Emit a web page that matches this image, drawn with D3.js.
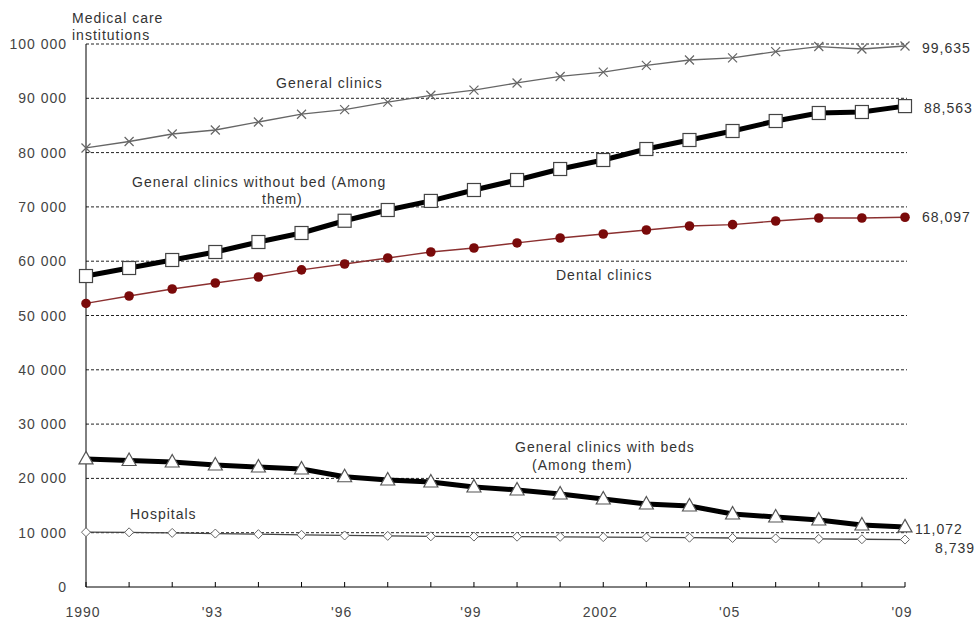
<!DOCTYPE html>
<html><head><meta charset="utf-8">
<script src="https://cdn.jsdelivr.net/npm/d3@7"></script>
<style>body{margin:0;background:#fff}svg{display:block}text{font-family:"Liberation Sans",Arial,sans-serif;fill:#333}</style>
</head><body><svg id="c" width="975" height="624"></svg>
<script>
const years = d3.range(1990, 2010);
const generalClinics = [80852,82044,83425,84162,85635,87069,87909,89292,90556,91500,92824,94019,94819,96050,97051,97442,98609,99532,99083,99635];
const withoutBed = [57270,58748,60221,61694,63536,65193,67450,69429,71100,73112,74954,76980,78637,80663,82320,83978,85819,87293,87477,88563];
const dental = [52216,53591,54880,55985,57090,58407,59484,60589,61694,62431,63361,64273,65009,65746,66483,66732,67403,67956,67956,68097];
const withBeds = [23589,23300,23020,22468,22099,21731,20300,19705,19337,18416,17864,17127,16206,15285,14917,13444,12891,12339,11418,11072];
const hospitals = [10096,10066,9963,9844,9731,9606,9490,9413,9333,9286,9266,9239,9187,9122,9077,9026,8943,8862,8794,8739];
const yTicks = [0,10000,20000,30000,40000,50000,60000,70000,80000,90000,100000];
const xTickLabels = {1990:"1990",1993:"'93",1996:"'96",1999:"'99",2002:"2002",2005:"'05",2009:"'09"};
const endLabels = ["99,635","88,563","68,097","11,072","8,739"];

const svg = d3.select("#c");
const x = d3.scaleLinear().domain([1990,2009]).range([86,905]);
const y = d3.scaleLinear().domain([0,100000]).range([587,44]);
const fmt = d => d===0 ? "0" : d3.format(",")(d).replace(/,/g," ");
const LS = "1px";

// gridlines
svg.append("g").selectAll("line").data(yTicks.filter(d=>d>0)).join("line")
  .attr("x1",86).attr("x2",907).attr("y1",d=>y(d)).attr("y2",d=>y(d))
  .attr("stroke","#222").attr("stroke-width",1).attr("stroke-dasharray","3,2");

// y axis labels
svg.append("g").selectAll("text").data(yTicks).join("text")
  .attr("x",67).attr("y",d=>y(d)).attr("dy","0.36em").attr("text-anchor","end")
  .style("font-size","14px").style("letter-spacing",LS).style("fill","#444").text(fmt);

// axes lines
svg.append("line").attr("x1",86).attr("x2",86).attr("y1",44).attr("y2",587).attr("stroke","#000");
svg.append("line").attr("x1",86).attr("x2",905).attr("y1",587).attr("y2",587).attr("stroke","#000");
svg.append("g").selectAll("line").data(years).join("line")
  .attr("x1",d=>x(d)).attr("x2",d=>x(d)).attr("y1",587).attr("y2",582).attr("stroke","#000");
svg.append("g").selectAll("text").data(years.filter(d=>xTickLabels[d])).join("text")
  .attr("x",d=>x(d)-3).attr("y",612).attr("dy","0.36em").attr("text-anchor","middle")
  .style("font-size","14px").style("letter-spacing",LS).style("fill","#444").text(d=>xTickLabels[d]);

const line = d3.line().x((d,i)=>x(years[i])).y(d=>y(d));
function series(data, color, width){
  svg.append("path").datum(data).attr("d",line).attr("fill","none")
    .attr("stroke",color).attr("stroke-width",width).attr("stroke-linejoin","round");
}
const pts = data => data.map((v,i)=>[x(years[i]), y(v)]);

// Hospitals
series(hospitals,"#444",1.3);
svg.append("g").selectAll("path").data(pts(hospitals)).join("path")
  .attr("d","M0,-4.5L4.5,0L0,4.5L-4.5,0Z").attr("transform",d=>`translate(${d})`)
  .attr("fill","#fff").attr("stroke","#666").attr("stroke-width",1);

// With beds
series(withBeds,"#000",5);
svg.append("g").selectAll("path").data(pts(withBeds)).join("path")
  .attr("d","M0,-7.5L7,5L-7,5Z").attr("transform",d=>`translate(${d})`)
  .attr("fill","#fff").attr("stroke","#555").attr("stroke-width",1.2);

// Dental
series(dental,"#8b3030",1.3);
svg.append("g").selectAll("circle").data(pts(dental)).join("circle")
  .attr("cx",d=>d[0]).attr("cy",d=>d[1]).attr("r",4.8).attr("fill","#7a0a0a");

// Without bed
series(withoutBed,"#000",5);
svg.append("g").selectAll("rect").data(pts(withoutBed)).join("rect")
  .attr("x",d=>d[0]-6.5).attr("y",d=>d[1]-6.5).attr("width",13).attr("height",13)
  .attr("fill","#fff").attr("stroke","#444").attr("stroke-width",1.2);

// General clinics
series(generalClinics,"#666",1.3);
svg.append("g").selectAll("path").data(pts(generalClinics)).join("path")
  .attr("d","M-4.5,-4.5L4.5,4.5M-4.5,4.5L4.5,-4.5").attr("transform",d=>`translate(${d})`)
  .attr("fill","none").attr("stroke","#666").attr("stroke-width",1.2);

// text annotations
const ann = [
  ["Medical care",72,18],["institutions",72,35],
  ["General clinics",276,83],
  ["General clinics without bed (Among",132,182],["them)",262,199],
  ["Dental clinics",556,275],
  ["General clinics with beds",515,447],["(Among them)",532,465],
  ["Hospitals",130,514]
];
svg.append("g").selectAll("text").data(ann).join("text")
  .attr("x",d=>d[1]).attr("y",d=>d[2]).attr("dy","0.36em")
  .style("font-size","14px").style("letter-spacing",LS).text(d=>d[0]);

const lastVals = [generalClinics, withoutBed, dental, withBeds, hospitals].map(a=>a[a.length-1]);
const endPos = [[922,2],[924,2],[922,0],[915,2],[935,8]];
svg.append("g").selectAll("text").data(endLabels).join("text")
  .attr("x",(d,i)=>endPos[i][0]).attr("y",(d,i)=>y(lastVals[i])+endPos[i][1]).attr("dy","0.36em")
  .style("font-size","14px").style("letter-spacing",LS).text(d=>d);
</script></body></html>
